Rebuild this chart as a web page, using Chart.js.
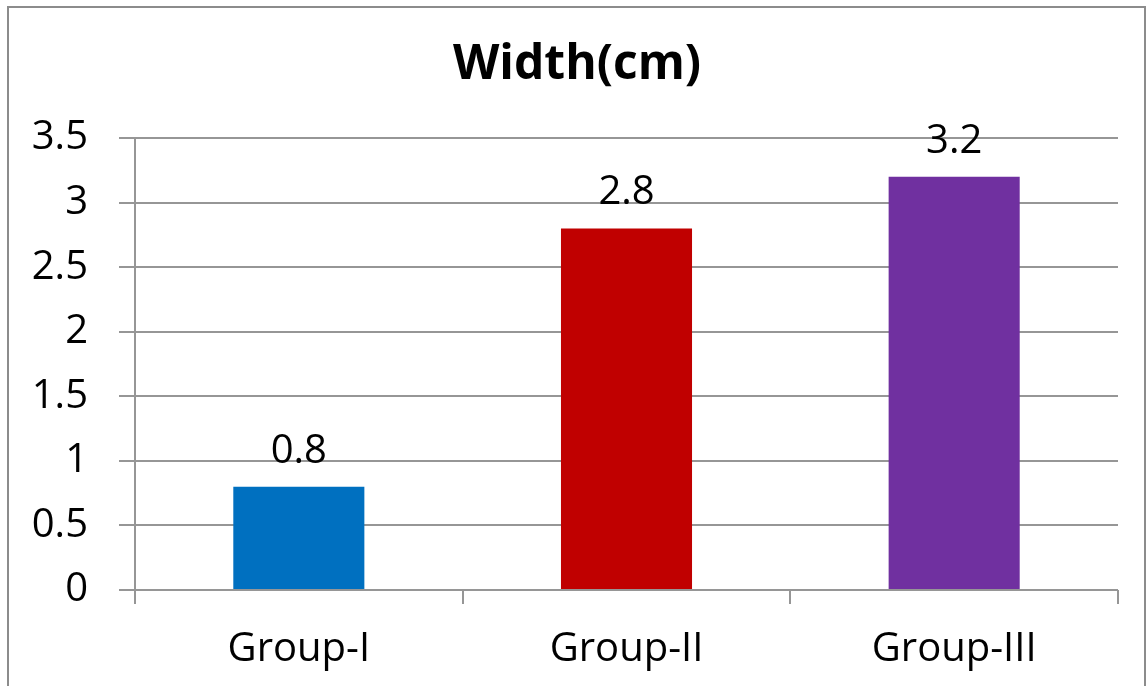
<!DOCTYPE html>
<html>
<head>
<meta charset="utf-8">
<title>Width(cm)</title>
<script src="https://cdn.jsdelivr.net/npm/chart.js@4.4.0/dist/chart.umd.min.js"></script>
<style>
  html, body { margin: 0; padding: 0; background: #fff; }
  canvas { display: block; }
</style>
</head>
<body>
<canvas id="myChart" width="1146" height="686"></canvas>
<script>
  // Data
  const groups = ['Group-I', 'Group-II', 'Group-III'];
  const widths = [0.8, 2.8, 3.2];
  const barColors = ['#0070C0', '#C00000', '#7030A0'];
  const yTicks = [0, 0.5, 1, 1.5, 2, 2.5, 3, 3.5];
  const chartTitle = 'Width(cm)';

  const gridGray = '#969696';
  const fontFamily = '"Open Sans", "Noto Sans", sans-serif';

  // outer frame of the chart + title (title sits a bit right of the plot centre)
  const framePlugin = {
    id: 'frame',
    beforeDraw(chart) {
      const c = chart.ctx;
      c.save();
      c.fillStyle = '#fff';
      c.fillRect(0, 0, chart.width, chart.height);
      c.strokeStyle = '#8c8c8c';
      c.lineWidth = 2;
      c.strokeRect(8, 7, 1137, 700);
      c.fillStyle = '#000';
      c.font = 'bold 48px ' + fontFamily;
      c.textAlign = 'center';
      c.textBaseline = 'middle';
      c.fillText(chartTitle, 577, 65);
      c.restore();
    }
  };

  // value labels above each bar
  const valueLabels = {
    id: 'valueLabels',
    afterDatasetsDraw(chart) {
      const c = chart.ctx;
      const meta = chart.getDatasetMeta(0);
      c.save();
      c.font = '40px ' + fontFamily;
      c.fillStyle = '#000';
      c.textAlign = 'center';
      c.textBaseline = 'alphabetic';
      meta.data.forEach((bar, i) => {
        c.fillText(String(widths[i]), bar.x, bar.y - 24);
      });
      c.restore();
    }
  };

  const ctx = document.getElementById('myChart');

  new Chart(ctx, {
    type: 'bar',
    data: {
      labels: groups,
      datasets: [{
        data: widths,
        backgroundColor: barColors,
        borderWidth: 0,
        barPercentage: 0.4,
        categoryPercentage: 1
      }]
    },
    options: {
      responsive: false,
      animation: false,
      devicePixelRatio: 1,
      layout: {
        padding: { left: 0, right: 28, top: 138, bottom: 0 }
      },
      plugins: {
        legend: { display: false },
        tooltip: { enabled: false },
        title: { display: false }
      },
      scales: {
        x: {
          offset: true,
          afterFit(scale) {
            scale.height = 96;
          },
          grid: {
            offset: true,
            drawOnChartArea: false,
            drawTicks: true,
            tickLength: 14,
            color: gridGray,
            lineWidth: 2
          },
          border: { display: false },
          ticks: {
            color: '#000',
            padding: 22,
            font: { family: fontFamily, size: 40, lineHeight: 1.2 }
          }
        },
        y: {
          min: 0,
          max: 3.5,
          afterBuildTicks(scale) {
            scale.ticks = yTicks.map(v => ({ value: v }));
          },
          afterFit(scale) {
            scale.width = 135;
          },
          grid: {
            color: gridGray,
            lineWidth: 2,
            tickLength: 16
          },
          border: { display: true, color: gridGray, width: 2 },
          ticks: {
            color: '#000',
            padding: 31,
            callback: v => String(v),
            font: { family: fontFamily, size: 40, lineHeight: 1.2 }
          }
        }
      }
    },
    plugins: [framePlugin, valueLabels]
  });
</script>
</body>
</html>
